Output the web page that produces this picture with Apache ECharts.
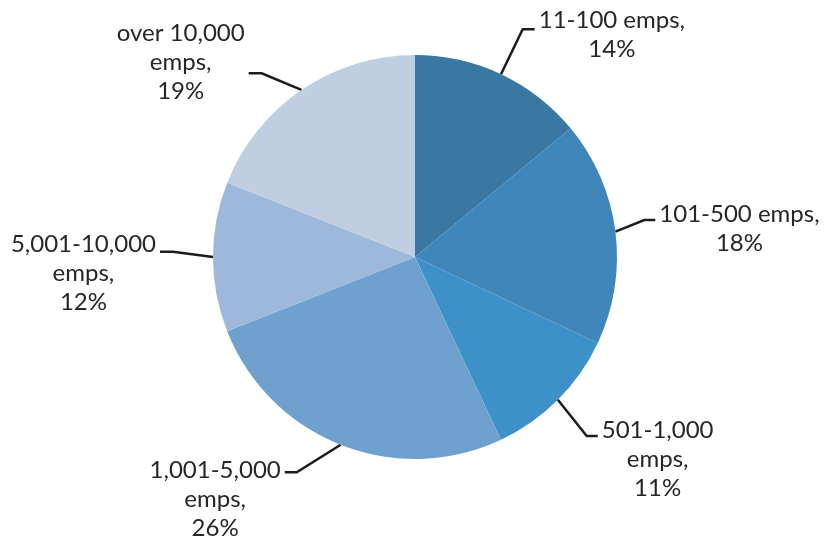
<!DOCTYPE html>
<html>
<head>
<meta charset="utf-8">
<script src="https://cdn.jsdelivr.net/npm/echarts@6/dist/echarts.min.js"></script>
<style>
  html, body { margin: 0; padding: 0; background: #ffffff; }
  #chart { width: 824px; height: 542px; }
</style>
</head>
<body>
<div id="chart"></div>
<script>
// Company size bands ("\n" marks where the label wraps) and their share in percent
const categories = ['11-100 emps', '101-500 emps', '501-1,000\nemps', '1,001-5,000\nemps', '5,001-10,000\nemps', 'over 10,000\nemps'];
const shares = [14, 18, 11, 26, 12, 19];
const sliceColors = ['#3A77A2', '#3F86BA', '#3D90C8', '#6FA1CE', '#9DB8DA', '#BFCFE1'];

// Leader-line shape per slice: elbow offset from the slice edge, horizontal run,
// side (1 = label to the right, -1 = to the left) and where the line meets the text block
const leaders = [
  { bend: [21.7, -44.9], run: 12, side: 1, top: 23.8 },
  { bend: [28.9, -11.7], run: 11, side: 1, top: 20.5 },
  { bend: [28.9, 36.2], run: 11, side: 1, top: 20.5 },
  { bend: [-43.9, 27.5], run: 12, side: -1, top: 16.8 },
  { bend: [-40, -5.3], run: 13, side: -1, top: 21.7 },
  { bend: [-39.8, -16.7], run: 13, side: -1, top: 54.8 }
];
const LABEL_GAP = 4;

const chart = echarts.init(document.getElementById('chart'), null, { renderer: 'canvas' });

const pieData = categories.map((name, i) => ({
  name: name,
  value: shares[i],
  itemStyle: { color: sliceColors[i] }
}));

chart.setOption({
  animation: false,
  backgroundColor: '#ffffff',
  series: [{
    type: 'pie',
    center: [415, 257],
    radius: 202,
    startAngle: 90,
    clockwise: true,
    avoidLabelOverlap: false,
    data: pieData,
    itemStyle: { borderWidth: 0 },
    emphasis: { disabled: true },
    label: {
      show: true,
      position: 'outside',
      fontFamily: 'Lato',
      fontSize: 24,
      color: '#262626',
      formatter: function (p) {
        const lines = (p.name + ',\n' + p.value + '%').split('\n');
        return lines.map(l => '{c|' + l + '}').join('\n');
      },
      rich: {
        c: { align: 'center', fontFamily: 'Lato', fontSize: 24, lineHeight: 29, color: '#262626' }
      }
    },
    labelLine: {
      show: true,
      length: 20,
      length2: 10,
      smooth: false,
      lineStyle: { color: '#1c1c1c', width: 2.5 }
    },
    labelLayout: function (params) {
      const g = leaders[params.dataIndex];
      const pts = params.labelLinePoints;
      if (!g || !pts) { return {}; }
      const p0 = pts[0];
      const bend = [p0[0] + g.bend[0], p0[1] + g.bend[1]];
      const end = [bend[0] + g.side * g.run, bend[1]];
      return {
        x: end[0] + g.side * LABEL_GAP,
        y: end[1] - g.top,
        align: g.side > 0 ? 'left' : 'right',
        verticalAlign: 'top',
        labelLinePoints: [p0, bend, end]
      };
    }
  }]
});
</script>
</body>
</html>
